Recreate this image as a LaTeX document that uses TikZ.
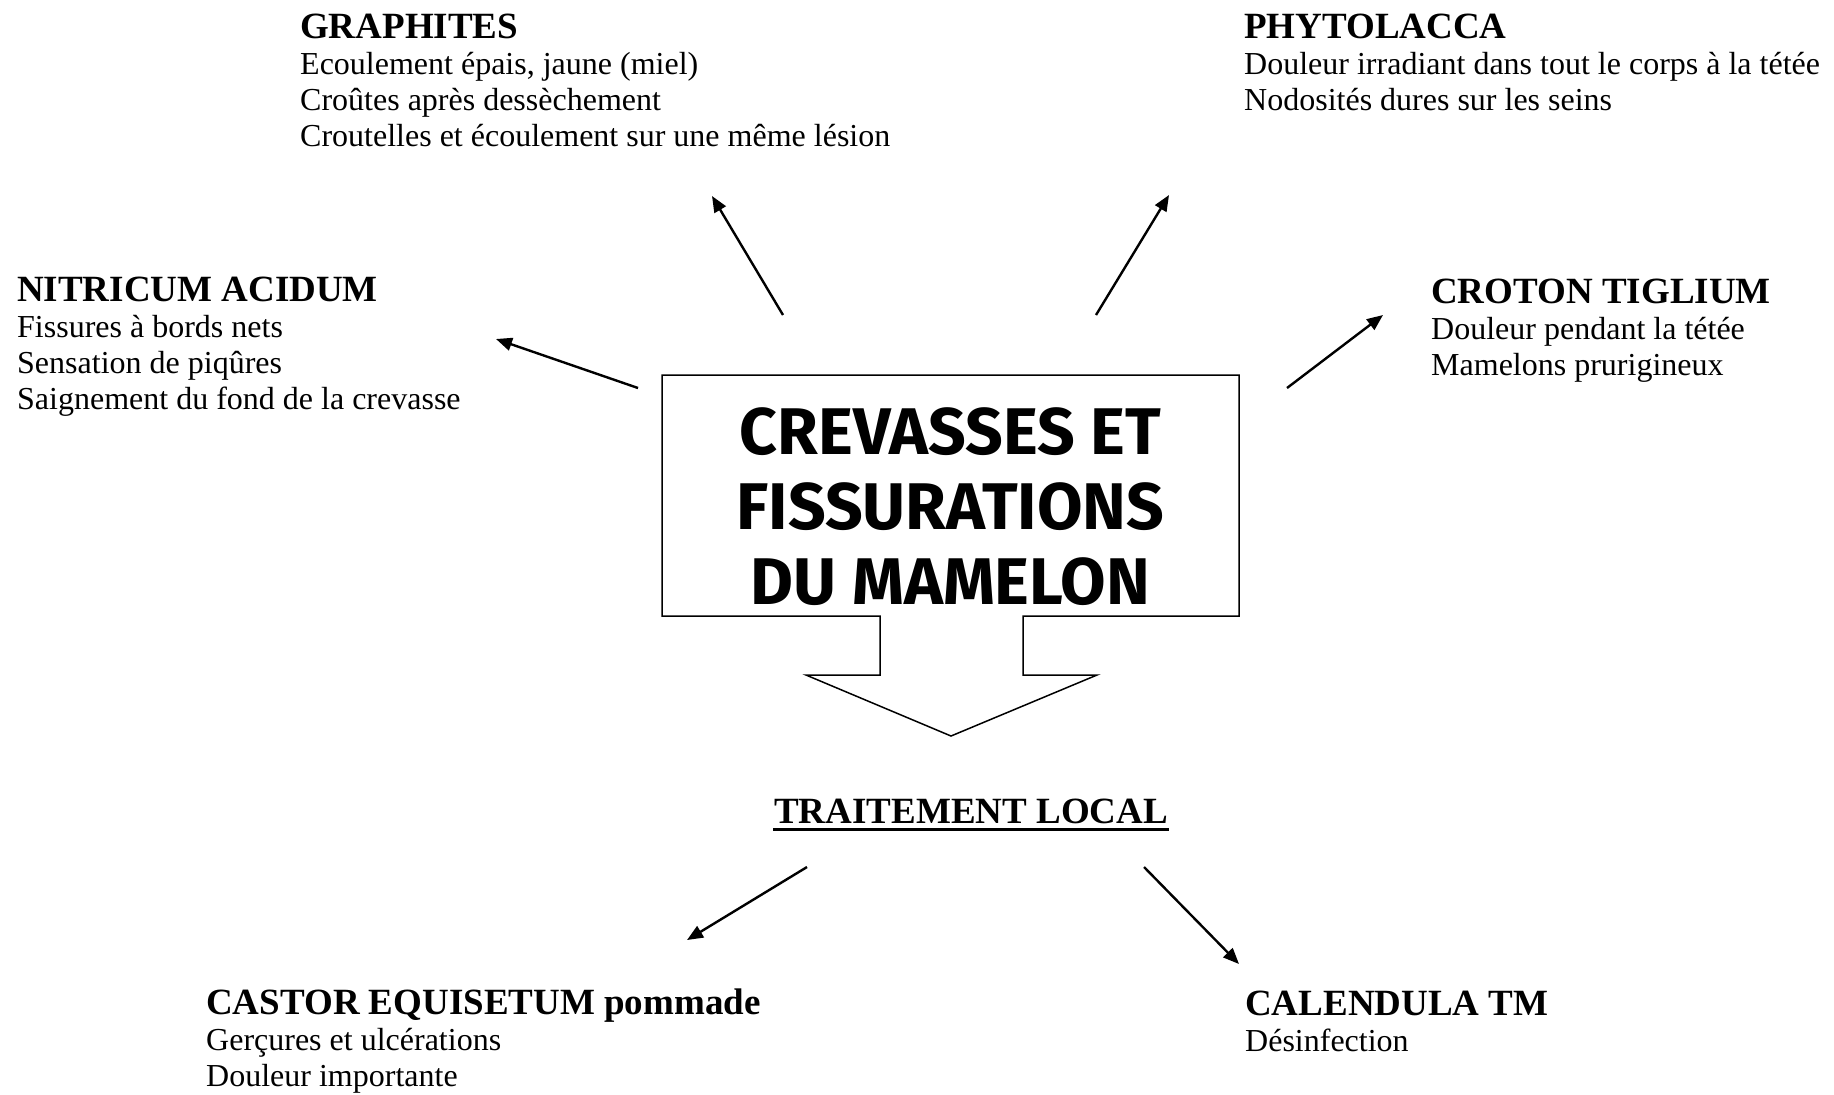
\documentclass[tikz,border=0pt]{standalone}
\usepackage{fontspec}
\setmainfont{Liberation Serif}
\newfontfamily\crevfont{Fira Sans}
\usetikzlibrary{arrows.meta}

\newcommand{\remedyname}[1]{{\fontsize{18.5}{21}\selectfont\bfseries #1}}

\begin{document}
\begin{tikzpicture}[x=0.5pt, y=-0.5pt, ->, >={Triangle[length=8pt, width=6.5pt]}, line width=1.2pt,
		remedy/.style={anchor=north west, inner sep=0pt, align=left, font=\fontsize{16}{18}\selectfont}]
				\useasboundingbox (0,0) rectangle (1834,1094);

				% central callout with its downward arrow
				\draw[-, line width=0.75pt] (662,375) -- (1239,375) -- (1239,616) -- (1023,616) -- (1023,675)
					-- (1097,675) -- (951,736) -- (806,675) -- (880,675) -- (880,616) -- (662,616) -- cycle;
				\node[align=center, font={\crevfont\bfseries\fontsize{33}{37.5}\selectfont}] (Crevasses)
					at (950.5,507) {CREVASSES ET \\ FISSURATIONS \\ DU MAMELON};

				\node[remedy] (Graphites) at (299,12.5)
					{\remedyname{GRAPHITES} \\ Ecoulement épais, jaune (miel) \\ Croûtes après dessèchement \\
					Croutelles et écoulement sur une même lésion};
				\node[remedy] (Nitricum) at (16,275.5)
					{\remedyname{NITRICUM ACIDUM} \\ Fissures à bords nets \\ Sensation de piqûres \\
					Saignement du fond de la crevasse};
				\node[remedy] (Phytolacca) at (1243,12.5)
					{\remedyname{PHYTOLACCA} \\ Douleur irradiant dans tout le corps à la tétée \\
					Nodosités dures sur les seins};
				\node[remedy] (Croton) at (1430,277.5)
					{\remedyname{CROTON TIGLIUM} \\ Douleur pendant la tétée \\ Mamelons prurigineux};

				\node[anchor=base west, inner sep=0pt] (Traitement) at (773,823) {\remedyname{TRAITEMENT LOCAL}};
				\draw[-, line width=1.5pt] ([yshift=-3pt]Traitement.base west) -- ([yshift=-3pt]Traitement.base east);

				\node[remedy] (Castor) at (205,987.5)
					{\remedyname{CASTOR EQUISETUM pommade} \\ Gerçures et ulcérations \\ Douleur importante};
				\node[remedy] (Calendula) at (1244,989.5)
					{\remedyname{CALENDULA TM} \\ Désinfection};

				\coordinate (GraphitesFrom) at (783,315);
				\coordinate (GraphitesTo) at (712,196);
				\coordinate (NitricumFrom) at (638,388);
				\coordinate (NitricumTo) at (496,339);
				\coordinate (PhytolaccaFrom) at (1096,315);
				\coordinate (PhytolaccaTo) at (1169,195);
				\coordinate (CrotonFrom) at (1287,388);
				\coordinate (CrotonTo) at (1383,315);
				\coordinate (CastorFrom) at (807,867);
				\coordinate (CastorTo) at (687,940);
				\coordinate (CalendulaFrom) at (1144,867);
				\coordinate (CalendulaTo) at (1239,964);

				\draw (GraphitesFrom) -- (GraphitesTo);
				\draw (NitricumFrom) -- (NitricumTo);
				\draw (PhytolaccaFrom) -- (PhytolaccaTo);
				\draw (CrotonFrom) -- (CrotonTo);
				\draw (CastorFrom) -- (CastorTo);
				\draw (CalendulaFrom) -- (CalendulaTo);

			\end{tikzpicture}
\end{document}
